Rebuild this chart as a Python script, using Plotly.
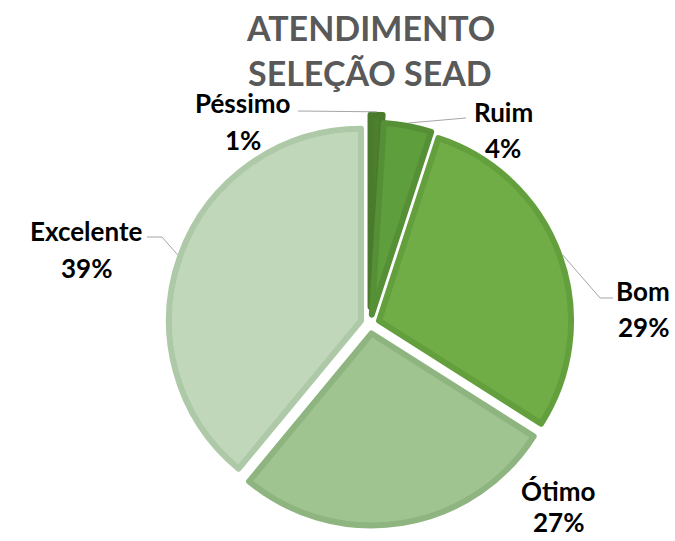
import math
import plotly.graph_objects as go

# ---------------- data ----------------
categories = ["Péssimo", "Ruim", "Bom", "Ótimo", "Excelente"]
values = [1, 4, 29, 27, 39]
title_lines = ["ATENDIMENTO", "SELEÇÃO SEAD"]

# ---------------- style ----------------
fill_colors = ["#4E7F2F", "#5F9E3D", "#70AD47", "#9FC48F", "#C0D8B9"]
line_colors = ["#4A7A2C", "#558F36", "#63A03D", "#8EB47F", "#AEC9A7"]
pulls = [0.09, 0.05, 0.05, 0.05, 0.05]

W, H = 675, 541
CX, CY = 370, 324          # pie centre in px
R_PATH = 192               # pie radius in px
LINE_W = 6
FONT = "Lato"

half = R_PATH * (1 + max(pulls))
dom_x = [(CX - half) / W, (CX + half) / W]
dom_y = [1 - (CY + half) / H, 1 - (CY - half) / H]


def px(x, y):
    return x / W, 1 - y / H


fig = go.Figure(go.Pie(
    labels=categories,
    values=values,
    sort=False,
    direction="clockwise",
    rotation=0,
    pull=pulls,
    textinfo="none",
    hoverinfo="label+percent",
    marker=dict(colors=fill_colors, line=dict(color=line_colors, width=LINE_W)),
    domain=dict(x=dom_x, y=dom_y),
    showlegend=False,
))

# label placement (px): x centre, y of name line, y of percent line
label_pos = {
    "Péssimo": (243, 103, 140),
    "Ruim": (503, 112, 148),
    "Bom": (643, 291, 327),
    "Ótimo": (558, 491, 522),
    "Excelente": (86, 231, 268),
}
# leader lines start (px) and optional elbow, end computed from slice geometry
leader = {
    "Péssimo": [(298, 111)],
    "Ruim": [(466, 118)],
    "Bom": [(613, 298), (600, 298)],
    "Excelente": [(147, 237), (162, 237)],
}

total = sum(values)
annotations = []
shapes = []
cum = 0
for cat, v, p in zip(categories, values, pulls):
    mid = (cum + v / 2) / total * 2 * math.pi
    cum += v
    pct = f"{round(v / total * 100)}%"
    lx, ly1, ly2 = label_pos[cat]
    for txt, yy in ((cat, ly1), (pct, ly2)):
        xx, yp = px(lx, yy)
        annotations.append(dict(
            x=xx, y=yp, xref="paper", yref="paper", text=txt, showarrow=False,
            xanchor="center", yanchor="middle",
            font=dict(family=FONT, size=26, color="#000000", weight="bold"),
        ))
    if cat in leader:
        rr = R_PATH * (1 + p) + LINE_W / 2
        ex = CX + math.sin(mid) * rr
        ey = CY - math.cos(mid) * rr
        pts = leader[cat] + [(ex, ey)]
        path = "M " + " L ".join(f"{px(a, b)[0]:.5f},{px(a, b)[1]:.5f}" for a, b in pts)
        shapes.append(dict(type="path", xref="paper", yref="paper", path=path,
                           line=dict(color="#A6A6A6", width=1)))

for txt, yy in zip(title_lines, (28, 73)):
    xx, yp = px(370, yy)
    annotations.append(dict(
        x=xx, y=yp, xref="paper", yref="paper", text=txt, showarrow=False,
        xanchor="center", yanchor="middle",
        font=dict(family=FONT, size=34, color="#595959", weight="bold"),
    ))

fig.update_layout(
    width=W, height=H,
    margin=dict(l=0, r=0, t=0, b=0),
    paper_bgcolor="white",
    plot_bgcolor="white",
    annotations=annotations,
    shapes=shapes,
)

fig.write_html(
    "out.html",
    config={"displayModeBar": False},
    post_script="document.body.style.margin='0';document.body.style.overflow='hidden';",
)
